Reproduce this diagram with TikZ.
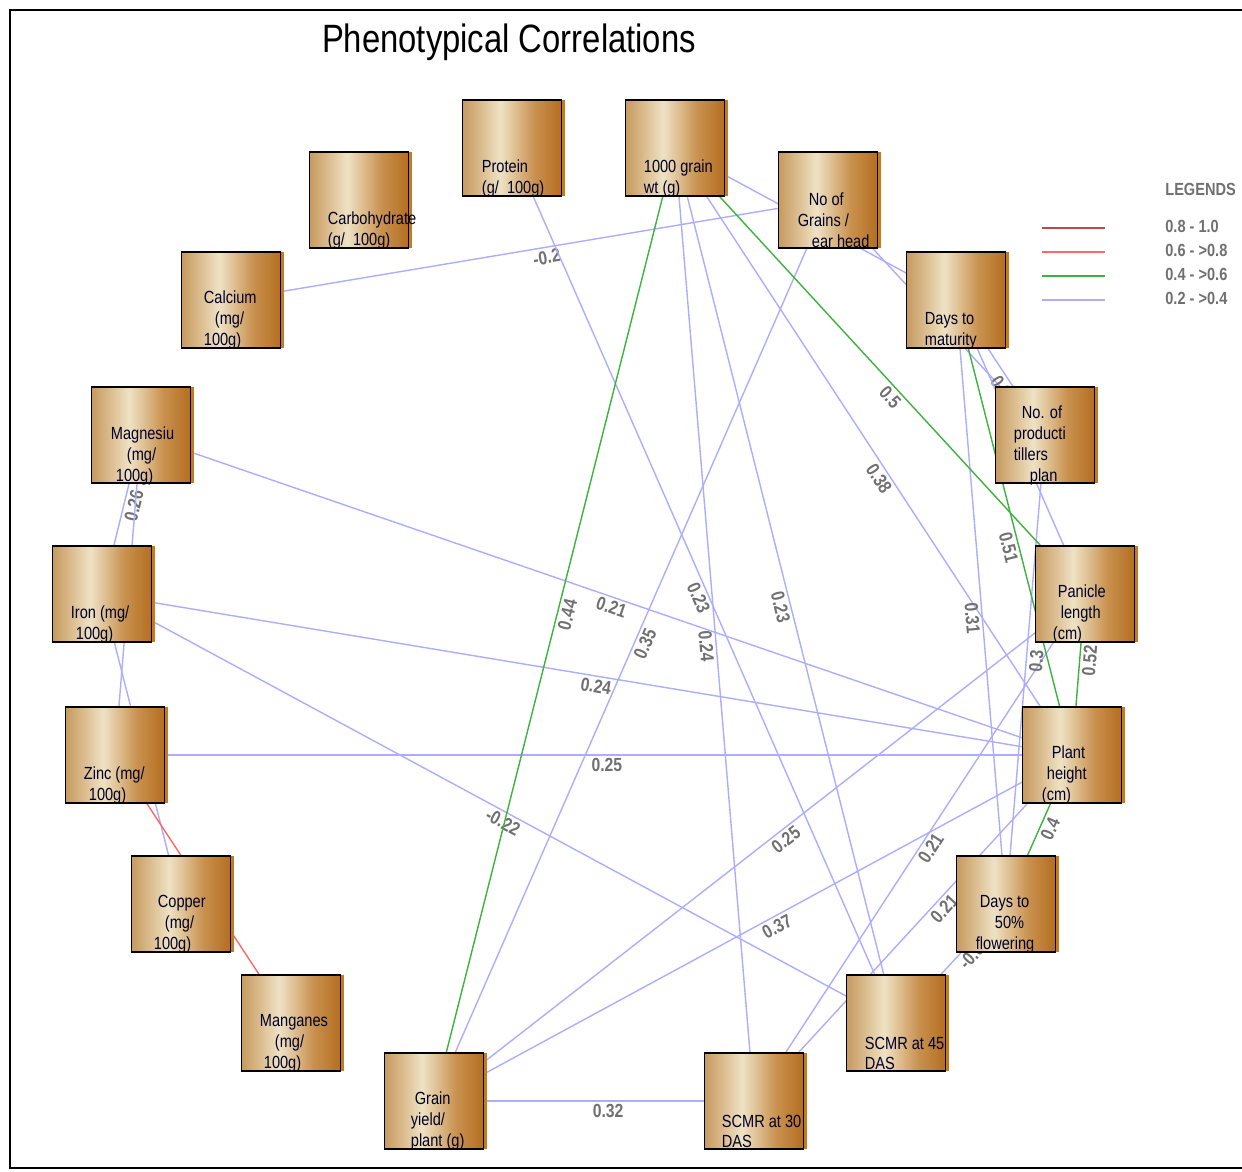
\documentclass[tikz,border=0pt]{standalone}
\usepackage{fontspec}
\setmainfont{Liberation Sans}
\newfontfamily\narrow{Liberation Sans}[FakeStretch=0.83]
\usetikzlibrary{shadows}
\definecolor{linkblue}{HTML}{ADADFF}
\definecolor{linkgreen}{HTML}{3DB33D}
\definecolor{linkred}{HTML}{FF6868}
\definecolor{linkdark}{HTML}{C04848}
\definecolor{valgray}{HTML}{707070}
\definecolor{boxrim}{HTML}{C47A22}
\definecolor{br1}{HTML}{C69A60}
\definecolor{br2}{HTML}{DABB8C}
\definecolor{br3}{HTML}{EEE2C4}
\definecolor{br4}{HTML}{DDBD8E}
\definecolor{br5}{HTML}{C99250}
\definecolor{br6}{HTML}{B46E20}
\pgfdeclarehorizontalshading{brass}{100bp}{color(0bp)=(br1); color(25bp)=(br1); color(34bp)=(br2); color(44bp)=(br3); color(52bp)=(br4); color(61bp)=(br5); color(75bp)=(br6); color(100bp)=(br6)}
\pgfdeclarelayer{links}
\pgfsetlayers{links,main}
\newlength\pxu
\setlength\pxu{0.02cm}
\newcommand{\ind}[1]{\hspace*{#1\pxu}}

\begin{document}
\begin{tikzpicture}[x=0.02cm,y=-0.02cm]
\tikzset{
 trait/.style={draw=black,line width=1.1pt,shade,shading=brass,minimum width=1.98cm,minimum height=1.92cm,inner sep=0pt,
  drop shadow={shadow xshift=0.07cm,shadow yshift=0cm,fill=boxrim,opacity=1}},
 tname/.style={font=\narrow\fontsize{10}{11.9}\selectfont,align=left,anchor=west,inner sep=0pt,text=black!85!blue},
 weak/.style={draw=linkblue,line width=0.8pt},
 mid/.style={draw=linkgreen,line width=0.8pt},
 high/.style={draw=linkred,line width=0.8pt},
 val/.style={font=\narrow\bfseries\fontsize{10.8}{12}\selectfont,text=valgray,sloped,inner sep=1.5pt},
 legtxt/.style={font=\narrow\bfseries\fontsize{10}{12}\selectfont,text=valgray,anchor=west,inner sep=0pt}
}
\useasboundingbox (0,0) rectangle (1242,1171);
\draw[line width=1pt] (1242,10) -- (10,10) -- (10,1168) -- (1242,1168);
\node[font=\narrow\fontsize{22.5}{26}\selectfont] (title) at (509,42) {Phenotypical Correlations};

% traits
\node[trait] (prot) at (512,148) {};
\node[trait] (thou) at (675,148) {};
\node[trait] (grains) at (828,200) {};
\node[trait] (carb) at (359,200) {};
\node[trait] (cal) at (231,300) {};
\node[trait] (mat) at (956,300) {};
\node[trait] (mag) at (141,435) {};
\node[trait] (till) at (1045,435) {};
\node[trait] (iron) at (102,594) {};
\node[trait] (pan) at (1085,594) {};
\node[trait] (zinc) at (115,755) {};
\node[trait] (plant) at (1072,755) {};
\node[trait] (cop) at (181,904) {};
\node[trait] (flow) at (1006,904) {};
\node[trait] (mang) at (291,1023) {};
\node[trait] (s45) at (896,1023) {};
\node[trait] (gy) at (434,1101) {};
\node[trait] (s30) at (754,1101) {};

\node[tname] (protT) at ([shift={(20,-18.5)}]prot.south west) {Protein\\(g/\ \ 100g)};
\node[tname] (thouT) at ([shift={(19,-18.5)}]thou.south west) {1000 grain\\wt (g)};
\node[tname] (grainsT) at ([shift={(20,-29)}]grains.south west) {\ind{11}No of\\Grains /\\\ind{14}ear head};
\node[tname] (carbT) at ([shift={(19,-18.5)}]carb.south west) {Carbohydrate\\(g/\ \ 100g)};
\node[tname] (calT) at ([shift={(23,-29)}]cal.south west) {Calcium\\\ind{11}(mg/\\100g)};
\node[tname] (matT) at ([shift={(19,-18.5)}]mat.south west) {Days to\\maturity};
\node[tname] (magT) at ([shift={(20,-28)}]mag.south west) {Magnesiu\\\ind{16}(mg/\\\ind{5}100g)};
\node[tname] (tillT) at ([shift={(19,-38.5)}]till.south west) {\ind{8}No. of\\producti\\tillers\\\ind{16}plan};
\node[tname] (ironT) at ([shift={(19,-18.5)}]iron.south west) {Iron (mg/\\\ind{5}100g)};
\node[tname] (panT) at ([shift={(18,-29)}]pan.south west) {\ind{5}Panicle\\\ind{8}length\\(cm)};
\node[tname] (zincT) at ([shift={(19,-18.5)}]zinc.south west) {Zinc (mg/\\\ind{5}100g)};
\node[tname] (plantT) at ([shift={(20,-29)}]plant.south west) {\ind{10}Plant\\\ind{5}height\\(cm)};
\node[tname] (copT) at ([shift={(23,-29)}]cop.south west) {\ind{4}Copper\\\ind{11}(mg/\\100g)};
\node[tname] (flowT) at ([shift={(20,-29)}]flow.south west) {\ind{4}Days to\\\ind{19}50\%\\flowering};
\node[tname] (mangT) at ([shift={(19,-29)}]mang.south west) {Manganes\\\ind{15}(mg/\\\ind{4}100g)};
\node[tname] (s45T) at ([shift={(19,-18.5)}]s45.south west) {SCMR at 45\\DAS};
\node[tname] (gyT) at ([shift={(27,-29)}]gy.south west) {\ind{4}Grain\\yield/\\plant (g)};
\node[tname] (s30T) at ([shift={(18,-18.5)}]s30.south west) {SCMR at 30\\DAS};

% correlations, under the boxes
\begin{pgfonlayer}{links}
\draw[weak] (cal.center) -- node[val,pos=.526,below]{-0.2} (grains.center);
\draw[weak] (prot.center) -- node[val,pos=.51,below]{0.23} (s45.center);
\draw[weak] (thou.center) -- node[val,pos=.522,below]{0.24} (s30.center);
\draw[weak] (thou.center) -- node[val,pos=.522,below]{0.23} (s45.center);
\draw[weak] (thou.center) -- node[val,pos=.535,below]{0.38} (plant.center);
\draw[weak] (thou.center) -- (mat.center);
\draw[weak] (grains.center) -- (till.center);
\draw[weak] (grains.center) -- node[val,pos=.488,below]{0.35} (gy.center);
\draw[weak] (mag.center) -- node[val,pos=.509,below]{0.21} (plant.center);
\draw[weak] (mag.center) -- node[val,pos=.43,below]{0.26} (iron.center);
\draw[weak] (mag.center) -- (zinc.center);
\draw[weak] (iron.center) -- node[val,pos=.511,below]{0.24} (plant.center);
\draw[weak] (iron.center) -- node[val,pos=.511,below]{-0.22} (s45.center);
\draw[weak] (iron.center) -- (cop.center);
\draw[weak] (zinc.center) -- node[val,pos=.514,below]{0.25} (plant.center);
\draw[weak] (gy.center) -- node[val,pos=.531,below]{0.25} (pan.center);
\draw[weak] (gy.center) -- node[val,pos=.53,below]{0.37} (plant.center);
\draw[weak] (gy.center) -- node[val,pos=.544,below]{0.32} (s30.center);
\draw[weak] (s30.center) -- node[val,pos=.509,below]{0.21} (pan.center);
\draw[weak] (s30.center) -- node[val,pos=.575,below]{0.21} (plant.center);
\draw[weak] (mat.center) -- node[val,pos=.526,below]{0.31} (flow.center);
\draw[weak] (mat.center) -- node[val,pos=.6,below]{0.3} (till.center);
\draw[weak] (mat.center) -- (pan.center);
\draw[weak] (till.center) -- node[val,pos=.48,below]{0.3} (flow.center);
\draw[weak] (flow.center) -- node[val,pos=.38,below]{-0.3} (s45.center);
\draw[mid] (thou.center) -- node[val,pos=.487,below]{0.44} (gy.center);
\draw[mid] (thou.center) -- node[val,pos=.543,below]{0.5} (pan.center);
\draw[mid] (mat.center) -- node[val,pos=.538,below]{0.51} (plant.center);
\draw[mid] (pan.center) -- node[val,pos=.41,below]{0.52} (plant.center);
\draw[mid] (plant.center) -- node[val,pos=.47,below]{0.4} (flow.center);
\draw[high] (zinc.center) -- (mang.center);
\end{pgfonlayer}

% legend
\node[legtxt] (legtitle) at (1165,189) {LEGENDS};
\foreach \col/\lab/\yy [count=\i] in {linkdark/0.8 - 1.0/226,linkred/0.6 - >0.8/250,linkgreen/0.4 - >0.6/274,linkblue/0.2 - >0.4/298}{
 \node[legtxt] (leg\i) at (1165,\yy) {\lab};
 \draw[draw=\col,line width=0.8pt] (1042,\yy+2) -- (1105,\yy+2);
}
\end{tikzpicture}
\end{document}
